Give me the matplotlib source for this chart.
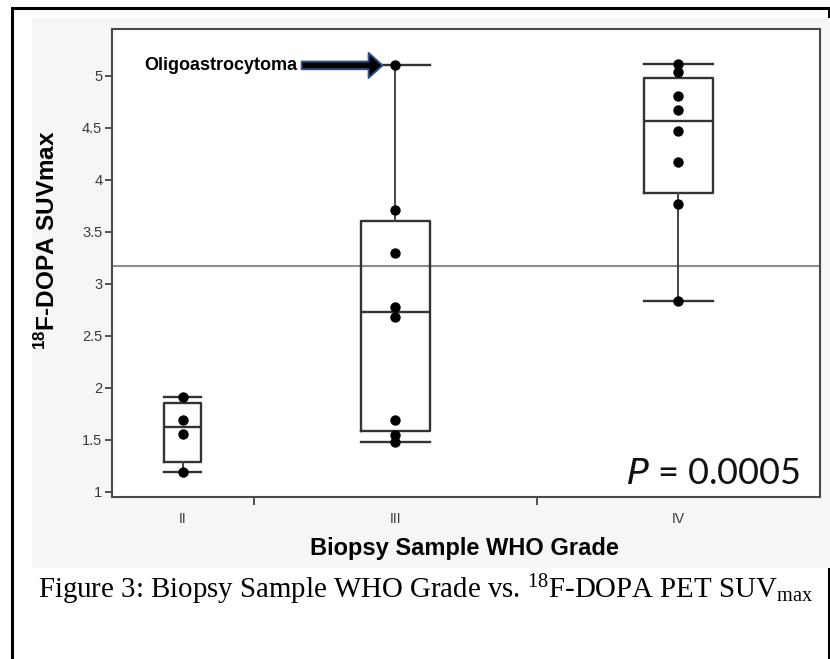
import numpy as np
import matplotlib
matplotlib.use("Agg")
import matplotlib.pyplot as plt
from matplotlib.patches import Rectangle, FancyArrowPatch

# ---- data ----
grade_labels = ["II", "III", "IV"]
suv_II = [1.19, 1.56, 1.69, 1.91]
suv_III = [1.48, 1.55, 1.69, 2.68, 2.78, 3.30, 3.71, 5.10]
suv_IV = [2.83, 3.77, 4.17, 4.47, 4.67, 4.81, 5.04, 5.11]
reference_level = 3.17
y_ticks = [1, 1.5, 2, 2.5, 3, 3.5, 4, 4.5, 5]
p_label = "0.0005"
annot_label = "Oligoastrocytoma"

groups = [suv_II, suv_III, suv_IV]

# ---- styling ----
W, H = 830, 659
box_widths = [1.05, 1.95, 1.95]
box_col = "#333333"
gray_bg = "#f6f6f6"

fig = plt.figure(figsize=(W / 100, H / 100), dpi=100)
fig.patch.set_facecolor("white")

def fx(px):
    return px / W

def fy(py):
    return 1 - py / H

# outer frame
fig.add_artist(Rectangle((fx(12), fy(700)), fx(829) - fx(12), fy(8) - fy(700),
                         transform=fig.transFigure, fill=False, ec="black", lw=2.2, zorder=0))
# JMP gray panel
fig.add_artist(Rectangle((fx(32), fy(568)), fx(830) - fx(32), fy(18) - fy(568),
                         transform=fig.transFigure, fc=gray_bg, ec="none", zorder=0.5))

ax = fig.add_axes([fx(112), fy(497), fx(820) - fx(112), fy(29) - fy(497)])
ax.set_facecolor("white")
ax.set_zorder(2)

# proportional x-axis: section widths equal sample sizes
ns = np.array([len(g) for g in groups])
edges = np.concatenate([[0], np.cumsum(ns)])
centers = edges[:-1] + ns / 2.0

stats = []
for g in groups:
    a = np.sort(np.asarray(g))
    q1, med, q3 = np.percentile(a, [25, 50, 75], method="weibull")
    iqr = q3 - q1
    lo = a[a >= q1 - 1.5 * iqr].min()
    hi = a[a <= q3 + 1.5 * iqr].max()
    stats.append(dict(med=med, q1=q1, q3=q3, whislo=lo, whishi=hi, fliers=[]))

ax.bxp(stats, positions=centers, widths=box_widths, capwidths=box_widths,
       showfliers=False, patch_artist=False,
       boxprops=dict(color=box_col, lw=1.7),
       medianprops=dict(color=box_col, lw=1.7),
       whiskerprops=dict(color="#444444", lw=1.4),
       capprops=dict(color=box_col, lw=1.7), zorder=3)

for c, g in zip(centers, groups):
    ax.scatter(np.full(len(g), c), g, s=56, color="black", zorder=5, linewidths=0)

ax.axhline(reference_level, color="#8c8c8c", lw=1.5, zorder=2)

ax.set_xlim(edges[0], edges[-1])
ax.set_ylim(0.95, 5.45)

ax.set_yticks(y_ticks)
ax.set_yticklabels([f"{t:g}" for t in y_ticks])
ax.set_xticks(centers)
ax.set_xticklabels(grade_labels)
ax.set_xticks(edges[1:-1], minor=True)
ax.tick_params(axis="x", which="major", length=0, pad=11, labelsize=10, labelcolor="#3a3a3a")
ax.tick_params(axis="x", which="minor", length=6, width=1.3, color="#444444")
ax.tick_params(axis="y", length=5, width=1.3, color="#444444", pad=2,
               labelsize=10.5, labelcolor="#3a3a3a")
for t in ax.get_xticklabels() + ax.get_yticklabels():
    t.set_family("Liberation Sans")
for s in ax.spines.values():
    s.set_color("#4a4a4a")
    s.set_linewidth(1.5)

# annotation arrow at the III maximum
iii_c = centers[1]
iii_max = max(suv_III)
arrow = FancyArrowPatch((iii_c - 2.72, iii_max), (iii_c - 0.28, iii_max),
                        arrowstyle="simple,head_length=1.0,head_width=1.8,tail_width=0.55",
                        mutation_scale=10, fc="black", ec="#2f5289", lw=1.4, zorder=6)
ax.add_patch(arrow)
ax.text(iii_c - 2.76, iii_max, annot_label, ha="right", va="center",
        family="Liberation Sans", weight="bold", fontsize=13, color="black", zorder=6)

# P value
ax.text(0.972, 0.028, r"$\mathit{P}$ = " + p_label, transform=ax.transAxes,
        ha="right", va="baseline", fontsize=26, family="Lato", color="#111111", zorder=6)

# axis labels
fig.text(fx(47), fy(240), r"$\mathregular{^{18}}$F-DOPA SUVmax",
         rotation=90, ha="center", va="center", family="Liberation Sans",
         weight="bold", fontsize=17.5, color="black")
fig.text(fx(464), fy(548), "Biopsy Sample WHO Grade", ha="center", va="center",
         family="Liberation Sans", weight="bold", fontsize=17, color="black")

# caption
fig.text(fx(38), fy(590),
         r"Figure 3: Biopsy Sample WHO Grade vs. $\mathregular{^{18}}$F-DOPA PET SUV$\mathregular{_{max}}$",
         ha="left", va="center", family="Liberation Serif", fontsize=20.8, color="black")

fig.savefig("out.png", dpi=100, facecolor="white")
